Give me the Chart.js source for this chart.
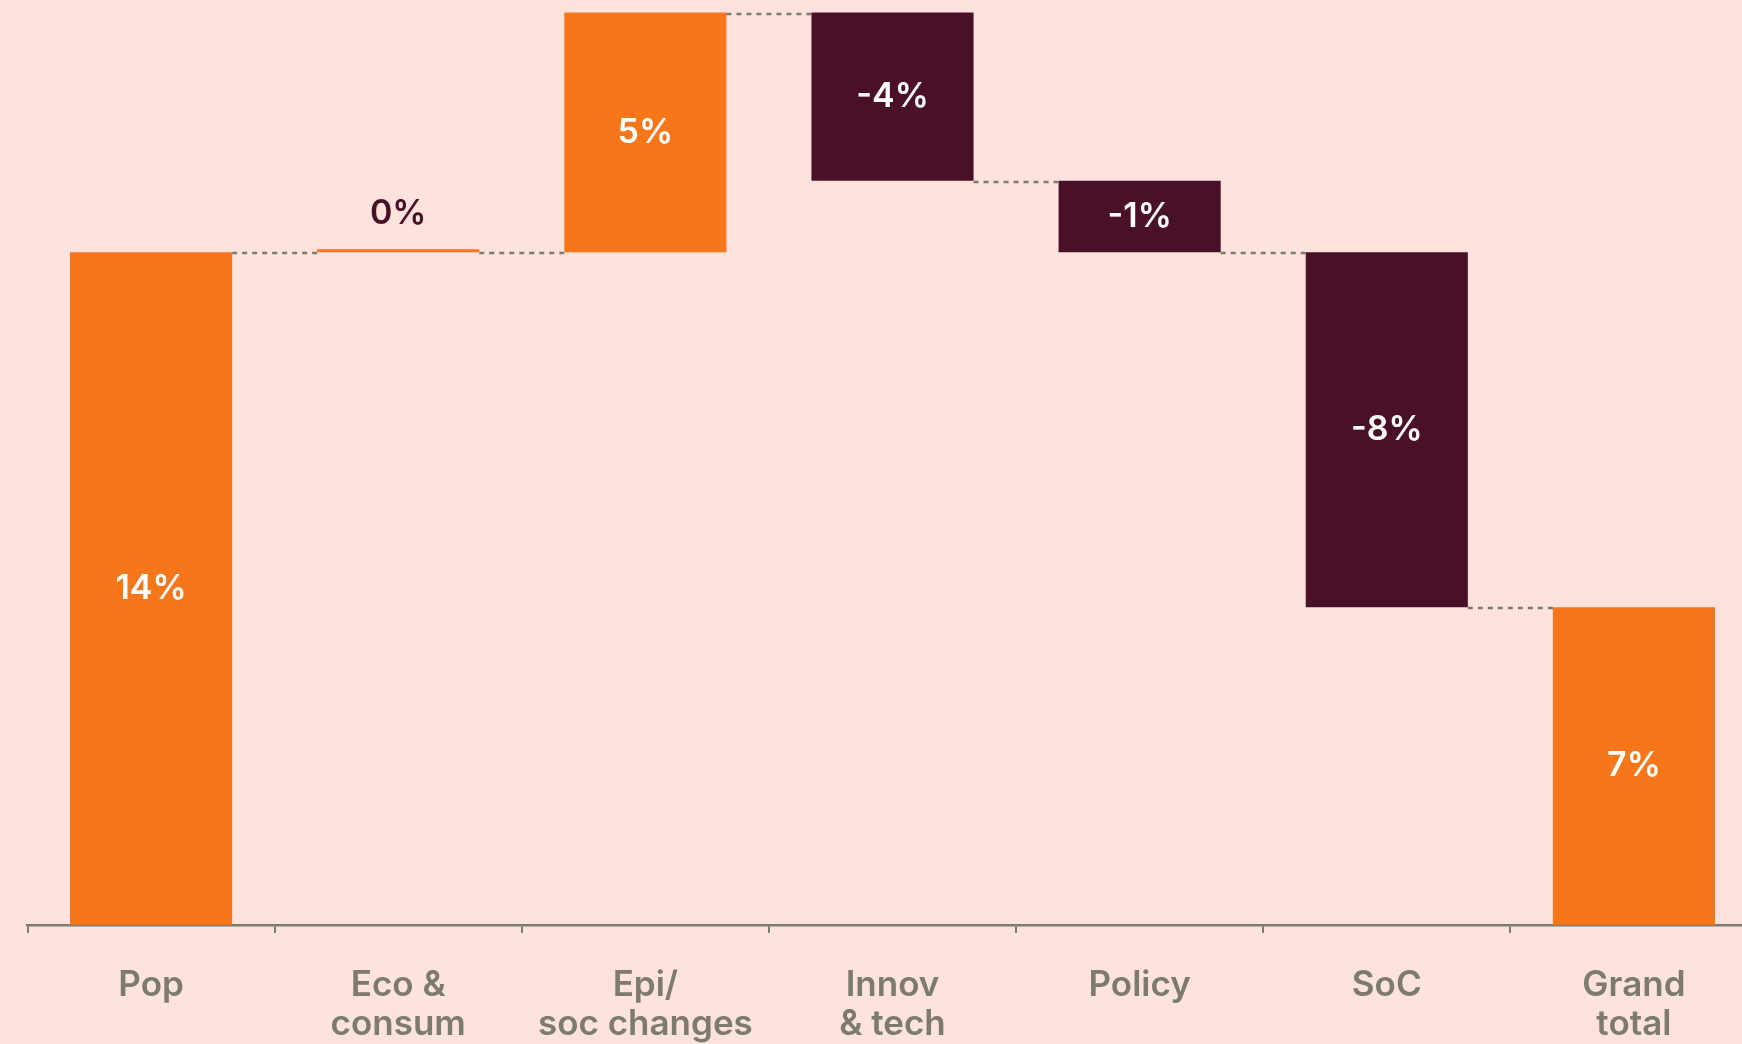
<!DOCTYPE html>
<html>
<head>
<meta charset="utf-8">
<script src="https://cdn.jsdelivr.net/npm/chart.js@4.4.1/dist/chart.umd.min.js"></script>
<style>
  html, body { margin: 0; padding: 0; background: #fde2de; overflow: hidden; }
  #wrap { width: 1760px; height: 1044px; }
</style>
</head>
<body>
<div id="wrap"><canvas id="chart" width="1760" height="1044"></canvas></div>
<script>
// categories (multi-line labels) and the change each driver contributes, in %
const categories = [['Pop'], ['Eco &', 'consum'], ['Epi/', 'soc changes'], ['Innov', '& tech'], ['Policy'], ['SoC'], ['Grand', 'total']];
const deltas = [14.4, 0, 5.13, -3.6, -1.53, -7.6];
const valueLabels = ['14%', '0%', '5%', '-4%', '-1%', '-8%', '7%'];

const ORANGE = '#f6761a';
const MAROON = '#4a1028';
const GREY = '#7d7b6c';

// build floating bars from the deltas, last one is the total
let running = 0;
const bars = deltas.map(d => {
    const start = running;
    running += d;
    return [start, running];
});
bars.push([0, running]);
const colors = bars.map((b, i) => (i === bars.length - 1 || b[1] >= b[0]) ? ORANGE : MAROON);

// dotted connectors between neighbouring bars
const connectorPlugin = {
    id: 'connectors',
    afterDatasetsDraw(chart) {
        const ctx = chart.ctx;
        const meta = chart.getDatasetMeta(0);
        const y = chart.scales.y;
        ctx.save();
        ctx.strokeStyle = GREY;
        ctx.lineWidth = 2.5;
        ctx.setLineDash([5, 5]);
        for (let i = 0; i < meta.data.length - 1; i++) {
            const a = meta.data[i];
            const b = meta.data[i + 1];
            const level = bars[i][1];
            const py = Math.round(y.getPixelForValue(level)) + 1;
            ctx.beginPath();
            ctx.moveTo(a.x + a.width / 2, py);
            ctx.lineTo(b.x - b.width / 2, py);
            ctx.stroke();
        }
        ctx.restore();
    }
};

// value labels inside the bars (or above when the bar is too thin)
const valuePlugin = {
    id: 'values',
    afterDatasetsDraw(chart) {
        const ctx = chart.ctx;
        const meta = chart.getDatasetMeta(0);
        ctx.save();
        ctx.font = '600 34px Inter';
        ctx.textAlign = 'center';
        ctx.textBaseline = 'middle';
        meta.data.forEach((bar, i) => {
            const top = Math.min(bar.y, bar.base);
            const h = Math.abs(bar.base - bar.y);
            if (h < 30) {
                ctx.fillStyle = MAROON;
                ctx.fillText(valueLabels[i], bar.x, top - 35);
            } else {
                ctx.fillStyle = '#ffffff';
                ctx.fillText(valueLabels[i], bar.x, top + h / 2);
            }
        });
        ctx.restore();
    }
};

new Chart(document.getElementById('chart'), {
    type: 'bar',
    data: {
        labels: categories,
        datasets: [{
            data: bars,
            backgroundColor: colors,
            borderWidth: 0,
            borderSkipped: false,
            minBarLength: 3,
            categoryPercentage: 1,
            barPercentage: 0.656
        }]
    },
    options: {
        responsive: false,
        animation: false,
        layout: { padding: { left: 27.5, right: 2.5, top: 0, bottom: 0 } },
        plugins: {
            legend: { display: false },
            tooltip: { enabled: false }
        },
        scales: {
            x: {
                grid: {
                    drawOnChartArea: false,
                    drawTicks: true,
                    tickLength: 8,
                    color: GREY,
                    lineWidth: 2
                },
                border: { display: true, color: GREY, width: 2.5 },
                ticks: {
                    color: GREY,
                    padding: 33,
                    maxRotation: 0,
                    autoSkip: false,
                    font: { family: 'Inter', size: 35, weight: '600', lineHeight: 1.12 }
                },
                afterFit(scale) { scale.height = 119; }
            },
            y: {
                display: false,
                min: 0,
                max: 19.8
            }
        }
    },
    plugins: [connectorPlugin, valuePlugin]
});
</script>
</body>
</html>
